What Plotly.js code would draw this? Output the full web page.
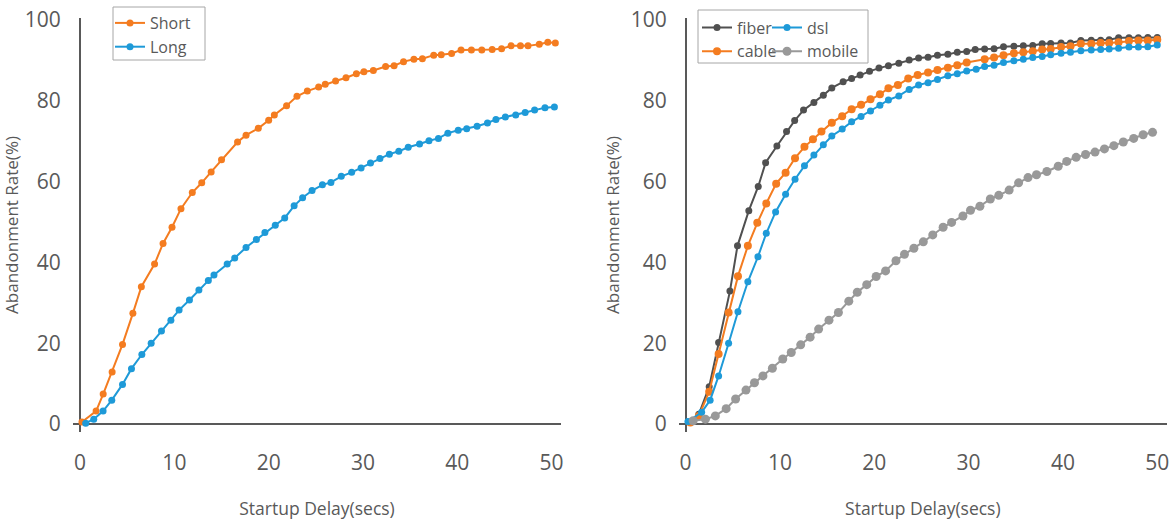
<!DOCTYPE html>
<html>
<head>
<meta charset="utf-8">
<script src="https://cdn.plot.ly/plotly-3.0.1.min.js"></script>
<style>html,body{margin:0;padding:0;background:#fff;}#chart{width:1176px;height:520px;}</style>
</head>
<body>
<div id="chart"></div>
<script>
// ---- Left panel: Short vs Long ----
const shortX = [0.2,1.7,2.45,3.4,4.5,5.6,6.5,7.9,8.8,9.75,10.7,11.9,12.9,13.9,15.0,16.7,17.6,18.9,20.0,20.6,21.9,23.0,24.1,25.3,26.0,27.1,28.2,29.3,30.1,31.1,32.4,33.3,34.3,35.4,36.3,37.5,38.3,39.4,40.4,41.5,42.6,43.7,44.7,45.7,46.7,47.5,48.7,49.6,50.4];
const shortY = [0.5,3.2,7.4,12.9,19.7,27.4,34.0,39.6,44.7,48.7,53.3,57.3,59.7,62.4,65.4,69.8,71.5,73.2,75.2,76.5,78.8,81.1,82.4,83.4,84.1,84.9,85.7,86.7,87.2,87.5,88.5,88.7,89.7,90.3,90.4,91.3,91.4,91.7,92.6,92.6,92.6,92.7,92.9,93.6,93.6,93.6,94.0,94.5,94.3];
const longX = [0.6,1.45,2.44,3.36,4.5,5.45,6.55,7.54,8.63,9.63,10.5,11.6,12.6,13.6,14.2,15.6,16.4,17.6,18.7,19.6,20.7,21.7,22.7,23.6,24.6,25.7,26.6,27.7,28.8,29.8,30.8,31.8,32.8,33.8,34.8,36.0,37.0,38.0,39.0,40.1,41.0,42.1,43.2,44.1,45.1,46.2,47.2,48.2,49.3,50.3];
const longY = [0.2,1.2,3.2,5.9,9.8,13.7,17.2,20.0,23.0,25.7,28.2,30.7,33.2,35.5,36.9,39.6,41.1,43.7,45.7,47.4,49.2,51.0,54.0,56.0,57.8,59.2,59.8,61.3,62.3,63.4,64.6,65.7,66.8,67.5,68.5,69.3,70.1,70.7,72.0,72.7,73.1,73.7,74.5,75.4,76.0,76.5,77.1,77.7,78.3,78.5];

// ---- Right panel: connection types ----
const fiberX = [0.5,1.4,2.5,3.5,4.7,5.5,6.7,7.7,8.48,9.68,10.7,11.56,12.5,13.6,14.6,15.5,16.7,17.6,18.5,19.5,20.5,21.5,22.6,23.7,24.7,25.7,26.7,27.8,28.8,29.8,30.7,31.7,32.7,33.7,34.8,35.8,36.8,37.8,38.7,39.8,40.8,41.9,43.0,44.0,44.9,45.9,47.0,48.0,49.0,50.0];
const fiberY = [0.4,2.4,9.2,20.2,32.9,44.1,52.8,58.8,64.7,68.8,72.4,75.1,77.7,79.6,81.4,83.2,84.7,85.5,86.4,87.3,88.1,88.7,89.3,90.1,90.6,90.8,91.3,91.5,92.0,92.2,92.7,92.8,92.9,93.4,93.5,93.6,93.7,94.1,94.2,94.3,94.3,94.9,95.0,95.0,95.1,95.6,95.6,95.6,95.7,95.7];
const cableX = [0.5,1.4,2.5,3.5,4.56,5.55,6.6,7.6,8.55,9.6,10.6,11.6,12.6,13.5,14.4,15.5,16.6,17.6,18.6,19.6,20.6,21.5,22.5,23.6,24.6,25.7,26.7,27.8,28.8,29.8,31.7,32.7,33.7,34.8,35.8,36.8,37.8,38.7,39.8,40.8,41.9,43.0,44.0,44.9,45.9,47.0,48.0,49.0,50.0];
const cableY = [0.4,2.0,8.0,17.3,27.6,36.6,44.1,49.8,54.6,59.5,62.2,65.8,68.6,70.5,72.4,74.6,76.2,77.9,79.0,80.4,81.6,83.1,83.9,85.5,86.4,87.0,87.6,88.2,88.8,89.5,90.3,90.7,91.3,91.8,92.0,92.3,92.7,92.8,93.3,93.5,94.1,94.1,94.3,94.3,94.5,94.8,94.9,94.9,95.1];
const dslX = [0.25,1.7,2.6,3.5,4.56,5.55,6.6,7.67,8.55,9.54,10.6,11.6,12.6,13.6,14.6,15.5,16.6,17.6,18.6,19.6,20.6,21.5,22.6,23.7,24.7,25.7,26.7,27.8,28.8,29.8,30.8,31.7,32.7,33.7,34.8,35.8,36.8,37.8,38.7,39.8,40.8,41.9,43.0,44.0,44.9,45.9,47.0,48.0,49.0,50.0];
const dslY = [0.6,2.9,5.9,11.9,20.0,27.8,35.2,41.4,47.2,52.5,56.9,60.6,63.9,66.6,69.1,71.3,73.0,74.8,76.1,77.5,78.9,80.2,81.2,82.8,83.9,84.5,85.3,86.2,86.7,87.4,87.8,88.5,88.8,89.5,89.9,90.3,90.7,91.0,91.4,91.8,92.0,92.4,92.6,92.7,92.8,93.0,93.3,93.3,93.4,93.8];
const mobileX = [0.8,2.1,3.15,4.3,5.3,6.4,7.3,8.2,9.2,10.3,11.2,12.2,13.2,14.1,15.2,16.2,17.3,18.2,19.2,20.2,21.2,22.3,23.2,24.2,25.2,26.2,27.3,28.2,29.4,30.2,31.2,32.3,33.2,34.3,35.3,36.3,37.2,38.3,39.5,40.4,41.4,42.4,43.4,44.4,45.4,46.4,47.5,48.5,49.5];
const mobileY = [0.8,1.2,2.0,3.8,6.2,8.4,10.2,11.9,13.8,16.1,17.7,19.6,21.5,23.5,25.7,27.6,30.4,32.6,34.5,36.5,37.9,40.4,42.0,43.5,45.1,46.8,48.7,49.9,51.5,52.9,53.9,55.7,56.6,57.9,59.7,61.0,61.7,62.5,63.8,65.0,66.0,66.7,67.3,68.1,68.9,69.8,70.7,71.6,72.2];

const xTicks = [0,10,20,30,40,50];
const yTicks = [0,20,40,60,80,100];
const xTitle = 'Startup Delay(secs)';
const yTitle = 'Abandonment Rate(%)';

const ORANGE = '#F47C20', BLUE = '#1E9AD8', DARK = '#505050', GRAY = '#999999';
const TXT = '#595959', FONT = '"Open Sans", "Liberation Sans", sans-serif';

function tr(x, y, name, color, xa, ya, legend, msize) {
  return {x: x, y: y, name: name, xaxis: xa, yaxis: ya, legend: legend,
    type: 'scatter', mode: 'lines+markers', cliponaxis: false,
    line: {color: color, width: 2}, marker: {color: color, size: msize}};
}

const data = [
  tr(shortX, shortY, 'Short', ORANGE, 'x', 'y', 'legend', 7),
  tr(longX, longY, 'Long', BLUE, 'x', 'y', 'legend', 7),
  tr(fiberX, fiberY, 'fiber', DARK, 'x2', 'y2', 'legend2', 7),
  tr(cableX, cableY, 'cable', ORANGE, 'x2', 'y2', 'legend2', 8),
  tr(dslX, dslY, 'dsl', BLUE, 'x2', 'y2', 'legend3', 7),
  tr(mobileX, mobileY, 'mobile', GRAY, 'x2', 'y2', 'legend3', 9)
];

const W = 1176, H = 520;
function xa(d0, d1, r0, anchor) {
  return {domain: [d0 / W, d1 / W], range: [r0, 51], anchor: anchor,
    showgrid: false, showline: false, zeroline: true, zerolinecolor: TXT, zerolinewidth: 2,
    tickvals: xTicks, ticks: '', tickfont: {family: FONT, size: 21, color: TXT},
    ticklabelstandoff: 16,
    title: {text: xTitle, font: {family: FONT, size: 17.5, color: TXT}, standoff: 29}};
}
function ya(anchor) {
  return {domain: [1 - 432 / H, 1 - 18 / H], range: [-1.98, 100.5], anchor: anchor,
    showgrid: false, showline: false, zeroline: true, zerolinecolor: TXT, zerolinewidth: 2,
    tickvals: yTicks, ticks: 'outside', ticklen: 7, tickcolor: 'rgba(0,0,0,0)',
    tickfont: {family: FONT, size: 21, color: TXT},
    title: {text: yTitle, font: {family: FONT, size: 17, color: TXT}, standoff: 6}};
}
const legFont = {family: FONT, size: 16, color: TXT};
const noBox = {borderwidth: 0, bgcolor: 'rgba(0,0,0,0)', font: legFont, tracegroupgap: 0,
  xanchor: 'left', yanchor: 'top'};
const layout = {
  width: W, height: H, margin: {l: 0, r: 0, t: 0, b: 0},
  paper_bgcolor: '#fff', plot_bgcolor: '#fff',
  font: {family: FONT, color: TXT},
  showlegend: true,
  xaxis: xa(73, 561, -0.75, 'y'),
  yaxis: ya('x'),
  xaxis2: xa(679, 1166.7, -0.7, 'y2'),
  yaxis2: ya('x2'),
  legend: Object.assign({x: 110 / W, y: 1 - 6 / H}, noBox),
  legend2: Object.assign({x: 697 / W, y: 1 - 10.5 / H}, noBox),
  legend3: Object.assign({x: 767 / W, y: 1 - 10.5 / H}, noBox),
  shapes: [
    {type: 'rect', xref: 'paper', yref: 'paper', layer: 'below',
     x0: 113 / W, x1: 205 / W, y0: 1 - 60 / H, y1: 1 - 7 / H,
     line: {color: '#a6a6a6', width: 1}, fillcolor: 'rgba(0,0,0,0)'},
    {type: 'rect', xref: 'paper', yref: 'paper', layer: 'below',
     x0: 698 / W, x1: 868 / W, y0: 1 - 63 / H, y1: 1 - 10 / H,
     line: {color: '#a6a6a6', width: 1}, fillcolor: 'rgba(0,0,0,0)'}
  ]
};
Plotly.newPlot('chart', data, layout, {displayModeBar: false, staticPlot: true});
</script>
</body>
</html>
